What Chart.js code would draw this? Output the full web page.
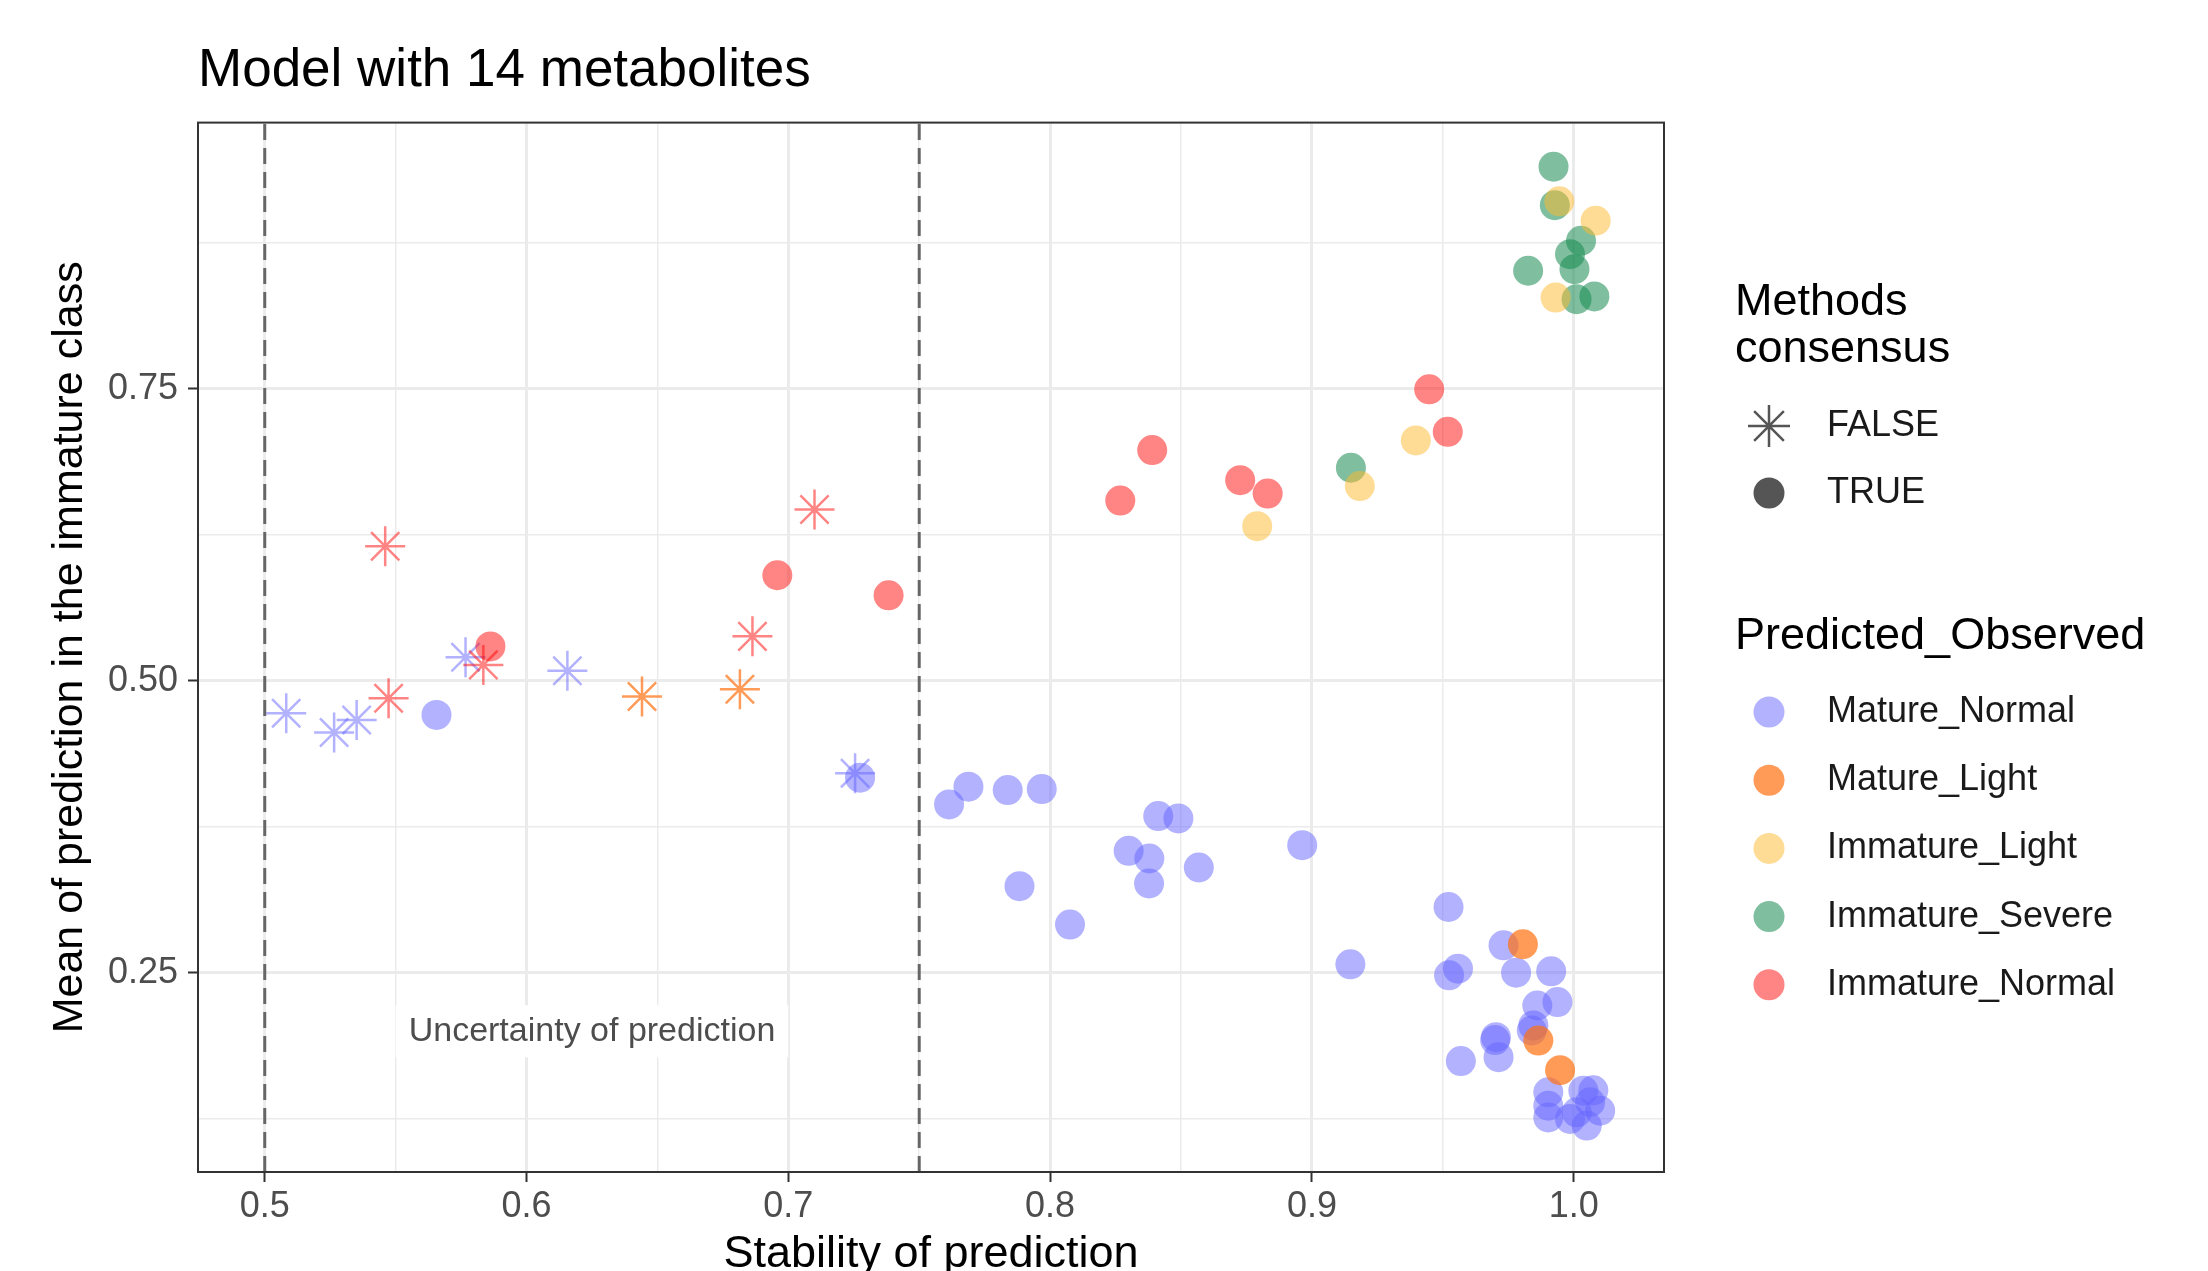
<!DOCTYPE html>
<html>
<head>
<meta charset="utf-8">
<title>Model with 14 metabolites</title>
<script src="https://cdn.jsdelivr.net/npm/chart.js@4.4.1/dist/chart.umd.min.js"></script>
<style>
  html, body { margin: 0; padding: 0; background: #fff; overflow: hidden; }
  #wrap { position: relative; width: 2208px; height: 1290px; }
</style>
</head>
<body>
<div id="wrap"><canvas id="myChart"></canvas></div>
<script>
// x = stability of prediction, y = mean of prediction in the immature class
const matureNormalTrueX = [0.5656, 0.7274, 0.7614, 0.7688, 0.7838, 0.7968, 0.8413, 0.8490, 0.8300, 0.8379,
  0.8378, 0.8568, 0.7883, 0.8076, 0.8963, 0.9147, 0.9522, 0.9732, 0.9558, 0.9524,
  0.9780, 0.9914, 0.9861, 0.9938, 0.9846, 0.9840, 0.9703, 0.9700, 0.9713, 0.9569,
  0.9903, 0.9903, 0.9903, 1.0037, 1.0063, 1.0101, 1.0012, 1.0050, 0.9986, 1.0075];
const matureNormalTrueY = [0.4708, 0.4171, 0.3942, 0.4094, 0.4065, 0.4073, 0.3842, 0.3822, 0.3545, 0.3479,
  0.3265, 0.3402, 0.3242, 0.2914, 0.3593, 0.2573, 0.3064, 0.2736, 0.2536, 0.2479,
  0.2502, 0.2513, 0.2221, 0.2250, 0.2050, 0.2007, 0.1950, 0.1925, 0.1779, 0.1745,
  0.1478, 0.1363, 0.1263, 0.1492, 0.1393, 0.1321, 0.1307, 0.1193, 0.1250, 0.1495];
const matureNormalFalseX = [0.5082, 0.5265, 0.5351, 0.5767, 0.6156, 0.7255];
const matureNormalFalseY = [0.4722, 0.4557, 0.4665, 0.5202, 0.5086, 0.4208];

const matureLightTrueX = [0.9806, 0.9865, 0.9948];
const matureLightTrueY = [0.2745, 0.1921, 0.1667];
const matureLightFalseX = [0.6441, 0.6815];
const matureLightFalseY = [0.4865, 0.4928];

const immatureSevereTrueX = [0.9149, 0.9826, 0.9923, 0.9928, 0.9986, 1.0003, 1.0011, 1.0028, 1.0079];
const immatureSevereTrueY = [0.6823, 0.8509, 0.9400, 0.9070, 0.8651, 0.8523, 0.8266, 0.8766, 0.8289];

const immatureLightTrueX = [0.8791, 0.9183, 0.9397, 0.9931, 0.9945, 1.0084];
const immatureLightTrueY = [0.6323, 0.6666, 0.7057, 0.8280, 0.9103, 0.8938];

const immatureNormalTrueX = [0.5862, 0.6958, 0.7383, 0.8268, 0.8390, 0.8726, 0.8831, 0.9448, 0.9519];
const immatureNormalTrueY = [0.5294, 0.5903, 0.5731, 0.6542, 0.6974, 0.6717, 0.6602, 0.7494, 0.7131];
const immatureNormalFalseX = [0.5460, 0.5473, 0.5835, 0.6863, 0.7100];
const immatureNormalFalseY = [0.6151, 0.4851, 0.5136, 0.5380, 0.6465];

const groupNames = ['Mature_Normal', 'Mature_Light', 'Immature_Light', 'Immature_Severe', 'Immature_Normal'];
const consensusNames = ['FALSE', 'TRUE'];

const xMajorTicks = [0.5, 0.6, 0.7, 0.8, 0.9, 1.0];
const xTickLabels = ['0.5', '0.6', '0.7', '0.8', '0.9', '1.0'];
const xMinorTicks = [0.55, 0.65, 0.75, 0.85, 0.95];
const yMajorTicks = [0.25, 0.5, 0.75];
const yTickLabels = ['0.25', '0.50', '0.75'];
const yMinorTicks = [0.125, 0.375, 0.625, 0.875];
const uncertaintyLimits = [0.5, 0.75];

const FONT = '"Liberation Sans", Arial, sans-serif';
Chart.defaults.font.family = FONT;

const groupColors = {
  Mature_Normal: 'rgba(102,102,255,0.5)',
  Mature_Light: 'rgba(255,112,15,0.7)',
  Immature_Light: 'rgba(255,185,43,0.5)',
  Immature_Severe: 'rgba(22,139,80,0.55)',
  Immature_Normal: 'rgba(255,10,10,0.5)'
};

const X_MIN = 0.4745, X_MAX = 1.0345, Y_MIN = 0.0796, Y_MAX = 0.9777;

function toPoints(xs, ys) {
  return xs.map((x, i) => ({ x: x, y: ys[i] }));
}

function pointSet(group, consensus, xs, ys) {
  const color = groupColors[group];
  if (consensus) {
    return {
      label: group + ' TRUE',
      data: toPoints(xs, ys),
      pointStyle: 'circle',
      pointRadius: 15,
      backgroundColor: color,
      borderColor: color,
      borderWidth: 0
    };
  }
  return {
    label: group + ' FALSE',
    data: toPoints(xs, ys),
    pointStyle: 'star',
    pointRadius: 20,
    backgroundColor: 'rgba(0,0,0,0)',
    borderColor: color,
    borderWidth: 2.5
  };
}

// listed from bottom layer to top layer
const pointSets = [
  pointSet('Mature_Normal', true, matureNormalTrueX, matureNormalTrueY),
  pointSet('Mature_Normal', false, matureNormalFalseX, matureNormalFalseY),
  pointSet('Mature_Light', true, matureLightTrueX, matureLightTrueY),
  pointSet('Mature_Light', false, matureLightFalseX, matureLightFalseY),
  pointSet('Immature_Severe', true, immatureSevereTrueX, immatureSevereTrueY),
  pointSet('Immature_Light', true, immatureLightTrueX, immatureLightTrueY),
  pointSet('Immature_Normal', true, immatureNormalTrueX, immatureNormalTrueY),
  pointSet('Immature_Normal', false, immatureNormalFalseX, immatureNormalFalseY)
];
pointSets.forEach((ds, i) => { ds.order = pointSets.length - i; });

const limitLines = uncertaintyLimits.map((v) => ({
  type: 'line',
  label: 'limit ' + v,
  data: [{ x: v, y: Y_MIN }, { x: v, y: Y_MAX }],
  borderColor: '#666666',
  borderWidth: 3,
  borderDash: [16, 8],
  pointRadius: 0,
  fill: false,
  order: 100
}));

function isIn(value, list) {
  return list.some((t) => Math.abs(t - value) < 1e-9);
}

const panelPlugin = {
  id: 'panelExtras',
  beforeDatasetsDraw(chart) {
    const { ctx } = chart;
    const x = chart.scales.x, y = chart.scales.y;
    const text = 'Uncertainty of prediction';
    const px = x.getPixelForValue(0.625);
    const py = y.getPixelForValue(0.2);
    ctx.save();
    ctx.font = '34px ' + FONT;
    const w = ctx.measureText(text).width + 26;
    ctx.fillStyle = '#ffffff';
    ctx.fillRect(px - w / 2, py - 26, w, 52);
    ctx.fillStyle = '#4d4d4d';
    ctx.textAlign = 'center';
    ctx.textBaseline = 'middle';
    ctx.fillText(text, px, py);
    ctx.restore();
  },
  afterDatasetsDraw(chart) {
    const { ctx, chartArea: a } = chart;
    ctx.save();
    ctx.strokeStyle = '#333333';
    ctx.lineWidth = 2;
    ctx.strokeRect(a.left, a.top, a.right - a.left, a.bottom - a.top);
    ctx.restore();
  }
};

const legendPlugin = {
  id: 'ggLegend',
  afterDraw(chart) {
    const ctx = chart.ctx;
    const keyX = 1769, textX = 1827, titleX = 1735;
    ctx.save();
    ctx.textAlign = 'left';
    ctx.textBaseline = 'middle';
    ctx.fillStyle = '#000';
    ctx.font = '45px ' + FONT;
    ctx.fillText('Methods', titleX, 303);
    ctx.fillText('consensus', titleX, 350);
    ctx.fillText('Predicted_Observed', titleX, 637);

    ctx.font = '36px ' + FONT;
    consensusNames.forEach((name, i) => {
      const yy = 426 + i * 67;
      ctx.fillStyle = '#555555';
      ctx.strokeStyle = '#555555';
      if (name === 'FALSE') {
        ctx.lineWidth = 2.5;
        Chart.helpers.drawPoint(ctx, { pointStyle: 'star', radius: 21, rotation: 0, borderWidth: 2.5 }, keyX, yy);
      } else {
        Chart.helpers.drawPoint(ctx, { pointStyle: 'circle', radius: 15.5, rotation: 0, borderWidth: 0 }, keyX, yy);
      }
      ctx.fillStyle = '#1a1a1a';
      ctx.fillText(name, textX, yy);
    });

    groupNames.forEach((name, i) => {
      const yy = 712 + i * 68.2;
      ctx.fillStyle = groupColors[name];
      Chart.helpers.drawPoint(ctx, { pointStyle: 'circle', radius: 15.5, rotation: 0, borderWidth: 0 }, keyX, yy);
      ctx.fillStyle = '#1a1a1a';
      ctx.fillText(name, textX, yy);
    });
    ctx.restore();
  }
};

const context = document.getElementById('myChart').getContext('2d');

const chart = new Chart(context, {
  type: 'scatter',
  data: {
    datasets: pointSets.concat(limitLines)
  },
  options: {
    responsive: true,
    maintainAspectRatio: false,
    animation: false,
    events: [],
    layout: { padding: { left: 0, right: 544, top: 0, bottom: 0 } },
    plugins: {
      legend: { display: false },
      tooltip: { enabled: false },
      title: {
        display: true,
        text: 'Model with 14 metabolites',
        align: 'start',
        fullSize: false,
        color: '#000',
        font: { size: 53, weight: 'normal' },
        padding: { top: 40, bottom: 19 }
      }
    },
    scales: {
      x: {
        type: 'linear',
        min: X_MIN,
        max: X_MAX,
        afterBuildTicks: (axis) => {
          axis.ticks = xMajorTicks.concat(xMinorTicks).sort((a, b) => a - b).map((v) => ({ value: v }));
        },
        afterFit: (axis) => { axis.height = 118; },
        ticks: {
          autoSkip: false,
          maxRotation: 0,
          padding: 3,
          color: '#4d4d4d',
          font: { size: 36 },
          callback: (value) => {
            const i = xMajorTicks.findIndex((t) => Math.abs(t - value) < 1e-9);
            return i >= 0 ? xTickLabels[i] : '';
          }
        },
        grid: {
          color: '#ebebeb',
          lineWidth: (c) => (c.tick && isIn(c.tick.value, xMajorTicks) ? 3 : 1.5),
          tickLength: 10,
          tickWidth: 2,
          tickColor: (c) => (c.tick && isIn(c.tick.value, xMajorTicks) ? '#333333' : 'rgba(0,0,0,0)')
        },
        border: { display: false },
        title: {
          display: true,
          text: 'Stability of prediction',
          color: '#000',
          font: { size: 45 },
          padding: { top: 0, bottom: 8 }
        }
      },
      y: {
        type: 'linear',
        min: Y_MIN,
        max: Y_MAX,
        afterBuildTicks: (axis) => {
          axis.ticks = yMajorTicks.concat(yMinorTicks).sort((a, b) => a - b).map((v) => ({ value: v }));
        },
        afterFit: (axis) => { axis.width = 198; },
        ticks: {
          autoSkip: false,
          padding: 10,
          color: '#4d4d4d',
          font: { size: 36 },
          callback: (value) => {
            const i = yMajorTicks.findIndex((t) => Math.abs(t - value) < 1e-9);
            return i >= 0 ? yTickLabels[i] : '';
          }
        },
        grid: {
          color: '#ebebeb',
          lineWidth: (c) => (c.tick && isIn(c.tick.value, yMajorTicks) ? 3 : 1.5),
          tickLength: 10,
          tickWidth: 2,
          tickColor: (c) => (c.tick && isIn(c.tick.value, yMajorTicks) ? '#333333' : 'rgba(0,0,0,0)')
        },
        border: { display: false },
        title: {
          display: true,
          text: 'Mean of prediction in the immature class',
          color: '#000',
          font: { size: 43 },
          padding: { top: 44, bottom: 0 }
        }
      }
    }
  },
  plugins: [panelPlugin, legendPlugin]
});
</script>
</body>
</html>
